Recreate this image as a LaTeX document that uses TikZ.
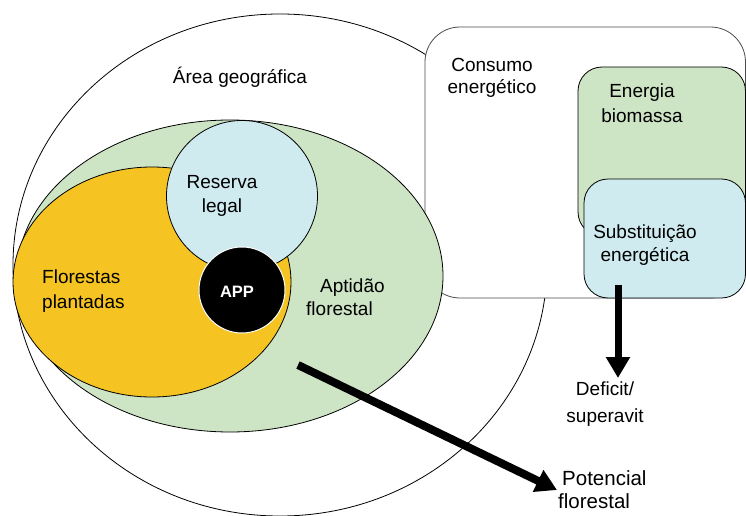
\documentclass[tikz,border=0pt]{standalone}
\usepackage{fontspec}
\setmainfont{Liberation Sans}
\usetikzlibrary{arrows.meta}
\definecolor{leafgreen}{RGB}{205,228,197}
\definecolor{paleblue}{RGB}{207,235,240}
\definecolor{goldfill}{RGB}{245,196,35}
\begin{document}
\begin{tikzpicture}[x=1pt,y=-1pt,
  outline/.style={draw=black,line width=0.8pt},
  lbl/.style={inner sep=0pt,font=\fontsize{19}{22.5}\selectfont,align=center,anchor=base},
  bigarrow/.style={line width=#1,-{Triangle[length=21pt,width=23pt]}}]
\useasboundingbox (0,0) rectangle (746,516);
\fill[white] (0,0) rectangle (746,516);

% geographic area
\draw[outline,fill=white] (280,265) ellipse [x radius=267,y radius=251];

% energy consumption block
\draw[outline,draw=black!70,fill=white,rounded corners=35pt] (425,27) rectangle (745.5,298);
\draw[outline,fill=leafgreen,rounded corners=24pt] (578,67) rectangle (745.5,236);
\draw[outline,fill=paleblue,rounded corners=24pt] (584,179) rectangle (745.5,298);

% forest aptitude, planted forests, legal reserve, APP
\draw[outline,fill=leafgreen] (230,276) ellipse [x radius=213,y radius=156];
\draw[outline,fill=goldfill] (152,282) ellipse [x radius=139,y radius=115];
\draw[outline,fill=paleblue] (242,196) circle [radius=75.5];
\draw[draw=white,line width=1pt,fill=black] (242,290) circle [radius=43];

% labels (multi-line nodes are placed by the baseline of their last line)
\node[lbl] (area) at (240,84) {Área geográfica};
\node[lbl] (consumo) at (492,94) {Consumo\\energético};
\node[lbl] (biomassa) at (642,122) {Energia\\[2pt]biomassa};
\node[lbl] (subst) at (645,261) {Substituição\\energética};
\node[lbl] (reserva) at (222,212) {Reserva\\[1pt]legal};
\node[lbl,align=left,anchor=base west] (plantadas) at (42,308) {Florestas\\[2pt]plantadas};
\node[lbl,text=white,font=\bfseries\fontsize{16.5}{20}\selectfont] (app) at (237,297) {APP};
\node[lbl,align=left,anchor=base west] (aptidao) at (306,315) {\hspace{14pt}Aptidão\\florestal};
\node[lbl] (deficit) at (605,422) {Deficit/\\[4pt]superavit};
\node[lbl,align=left,anchor=base west,font=\fontsize{20.5}{23}\selectfont] (potencial) at (558,508) {\hspace{4pt}Potencial\\florestal};

% arrows
\coordinate (s1) at (618,285);
\coordinate (t1) at (618,378);
\draw[bigarrow=7pt] (s1) -- (t1);
\coordinate (s2) at (298,365);
\coordinate (t2) at (557,490);
\draw[bigarrow=8pt] (s2) -- (t2);
\end{tikzpicture}
\end{document}
